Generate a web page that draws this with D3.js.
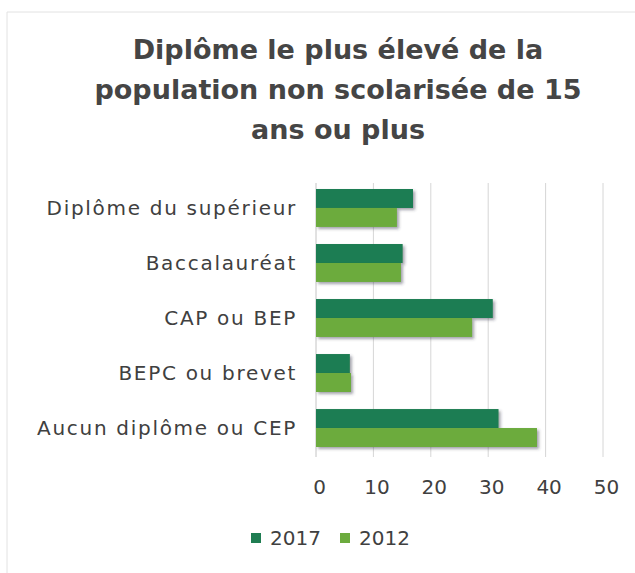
<!DOCTYPE html>
<html>
<head>
<meta charset="utf-8">
<script src="https://cdn.jsdelivr.net/npm/d3@7"></script>
<style>
  body { margin: 0; background: #fff; }
  text { font-family: "DejaVu Sans", sans-serif; fill: #404040; }
</style>
</head>
<body>
<div id="canvas"></div>
<script>
"use strict";

/* Data */
let categories = ["Diplôme du supérieur", "Baccalauréat", "CAP ou BEP", "BEPC ou brevet", "Aucun diplôme ou CEP"];
let seriesNames = ["2017", "2012"];
let values2017 = [16.9, 15.1, 30.8, 5.9, 31.8];
let values2012 = [14.1, 14.8, 27.2, 6.1, 38.5];
let xTicks = [0, 10, 20, 30, 40, 50];
let titleLines = ["Diplôme le plus élevé de la", "population non scolarisée de 15", "ans ou plus"];

let svgWidth = 635;
let svgHeight = 573;
let colors = { "2017": "#1f7d52", "2012": "#6cab3e" };

let svg = d3.select("#canvas")
  .append("svg")
  .attr("width", svgWidth)
  .attr("height", svgHeight);

/* Shadow under the bars */
let defs = svg.append("defs");
defs.append("filter")
  .attr("id", "shadow")
  .attr("x", "-10%").attr("y", "-30%")
  .attr("width", "130%").attr("height", "180%")
  .append("feDropShadow")
  .attr("dx", 2).attr("dy", 2)
  .attr("stdDeviation", 1.5)
  .attr("flood-color", "#334")
  .attr("flood-opacity", 0.45);

/* Faint frame (top and left) */
svg.append("line")
  .attr("x1", 7).attr("y1", 12).attr("x2", svgWidth).attr("y2", 12)
  .attr("stroke", "#e2e2e2");
svg.append("line")
  .attr("x1", 7).attr("y1", 12).attr("x2", 7).attr("y2", svgHeight)
  .attr("stroke", "#e2e2e2");

/* Title */
titleLines.forEach((t, i) => {
  svg.append("text")
    .attr("x", 338)
    .attr("y", 59 + i * 40)
    .attr("text-anchor", "middle")
    .attr("font-size", "27px")
    .attr("font-weight", "bold")
    .style("fill", "#454545")
    .text(t);
});

/* Scales */
let xScale = d3.scaleLinear()
  .domain([0, 50])
  .range([316, 603]);

let yScale = d3.scaleBand()
  .domain(categories)
  .range([178, 458])
  .paddingInner(0.31)
  .paddingOuter(0.2);

let ySub = d3.scaleBand()
  .domain(seriesNames)
  .range([0, yScale.bandwidth()]);

/* Gridlines */
svg.selectAll("line.grid")
  .data(xTicks)
  .enter()
  .append("line")
  .attr("class", "grid")
  .attr("x1", d => xScale(d))
  .attr("x2", d => xScale(d))
  .attr("y1", 183)
  .attr("y2", 457)
  .attr("stroke", d => d === 0 ? "#c4c4c4" : "#d6d6d6")
  .attr("stroke-width", 1);

/* Bars */
let rows = categories.map((c, i) => ({ cat: c, v: { "2017": values2017[i], "2012": values2012[i] } }));

let groups = svg.selectAll("g.row")
  .data(rows)
  .enter()
  .append("g")
  .attr("class", "row")
  .attr("transform", d => `translate(0, ${yScale(d.cat)})`);

groups.selectAll("rect")
  .data(d => seriesNames.map(s => ({ s: s, v: d.v[s] })))
  .enter()
  .append("rect")
  .attr("x", xScale(0))
  .attr("y", d => ySub(d.s))
  .attr("width", d => xScale(d.v) - xScale(0))
  .attr("height", ySub.bandwidth())
  .attr("fill", d => colors[d.s])
  .attr("filter", "url(#shadow)");

/* Category labels */
svg.selectAll("text.cat")
  .data(categories)
  .enter()
  .append("text")
  .attr("class", "cat")
  .attr("x", 297)
  .attr("y", d => yScale(d) + yScale.bandwidth() / 2)
  .attr("dy", "0.35em")
  .attr("text-anchor", "end")
  .attr("font-size", "20px")
  .attr("letter-spacing", "1.7px")
  .text(d => d);

/* X axis tick labels */
let xAxis = d3.axisBottom(xScale)
  .tickValues(xTicks)
  .tickSize(0)
  .tickPadding(0);

let axisG = svg.append("g")
  .attr("transform", "translate(3, 487)")
  .call(xAxis);
axisG.select(".domain").remove();
axisG.selectAll("text")
  .attr("font-size", "20px")
  .attr("font-family", "DejaVu Sans, sans-serif")
  .attr("dy", "0.35em")
  .style("fill", "#404040");

/* Legend */
let legendItems = [
  { s: "2017", x: 251 },
  { s: "2012", x: 340 }
];
legendItems.forEach(item => {
  svg.append("rect")
    .attr("x", item.x)
    .attr("y", 533)
    .attr("width", 10)
    .attr("height", 10)
    .attr("fill", colors[item.s]);
  svg.append("text")
    .attr("x", item.x + 19)
    .attr("y", 538)
    .attr("dy", "0.35em")
    .attr("font-size", "20px")
    .text(item.s);
});
</script>
</body>
</html>
